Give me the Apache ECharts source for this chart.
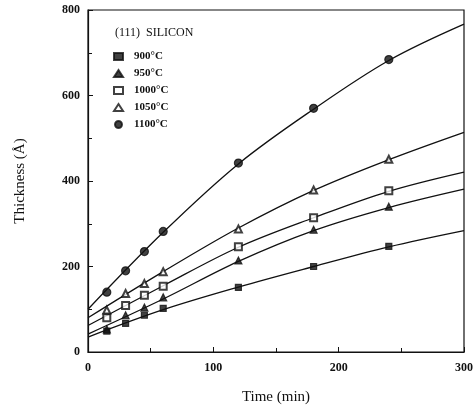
<!DOCTYPE html>
<html>
<head>
  <meta charset="UTF-8">
  <title>(111) Silicon oxide thickness</title>
  <style>
    *{ margin: 0; padding: 0; }
    body{ background: #fff; }
    #chart{ width: 476px; height: 410px; }
  </style>
</head>
<body>
<div id="chart"></div>
<script src="https://cdn.jsdelivr.net/npm/echarts@6/dist/echarts.min.js"></script>
<script>
  // measured times (min)
  var times = [15, 30, 45, 60, 120, 180, 240];
  // thickness (Å)
  var t900 = [49, 67, 86, 102, 151, 200, 247];
  var t950 = [53, 86, 104, 128, 214, 286, 340];
  var t1000 = [80, 109, 133, 154, 246, 314, 377];
  var t1050 = [98, 137, 160, 188, 288, 379, 451];
  var t1100 = [140, 190, 235, 282, 442, 570, 684];

  var curveTimes = [0, 60, 120, 180, 240, 300];
  var c900 = [35, 99, 152, 200, 246, 284];
  var c950 = [42, 124, 212, 284, 338, 381];
  var c1000 = [62, 155, 245, 314, 376, 421];
  var c1050 = [80, 188, 290, 378, 450, 514];
  var c1100 = [100, 280, 440, 568, 682, 767];

  var names = ['900°C', '950°C', '1000°C', '1050°C', '1100°C'];
  var symbols = ['rect', 'triangle', 'emptyRect', 'emptyTriangle', 'circle'];
  var sizes = [6, 7, 7, 7, 8];
  var points = [t900, t950, t1000, t1050, t1100];
  var curves = [c900, c950, c1000, c1050, c1100];

  var serif = '"Liberation Serif", "DejaVu Serif", serif';

  function zip(xs, ys) {
    return xs.map(function (x, i) { return [x, ys[i]]; });
  }

  var series = [];
  curves.forEach(function (c) {
    series.push({
      type: 'line',
      data: zip(curveTimes, c),
      smooth: 0.35,
      showSymbol: false,
      silent: true,
      lineStyle: { color: '#111', width: 1.3 }
    });
  });
  points.forEach(function (p, i) {
    series.push({
      name: names[i],
      type: 'scatter',
      data: zip(times, p),
      symbol: symbols[i],
      symbolSize: sizes[i],
      itemStyle: { color: '#111', borderColor: '#111', borderWidth: 1.2 },
      z: 5
    });
  });

  var chart = echarts.init(document.getElementById('chart'));
  chart.setOption({
    animation: false,
    title: {
      text: '(111)  SILICON',
      left: 110,
      top: 22,
      textStyle: { fontFamily: serif, fontSize: 12, fontWeight: 'normal', color: '#111' }
    },
    legend: {
      data: names,
      orient: 'vertical',
      left: 108,
      top: 46,
      itemWidth: 9,
      itemHeight: 7,
      itemGap: 6,
      textStyle: { fontFamily: serif, fontSize: 11, fontWeight: 'bold', color: '#111', padding: [0, 0, 0, 6] }
    },
    grid: {
      left: 88, right: 10, top: 10, bottom: 56,
      show: true, borderColor: '#111', borderWidth: 1.2
    },
    xAxis: {
      type: 'value',
      min: 0, max: 300, interval: 100,
      name: 'Time (min)',
      nameLocation: 'middle',
      nameGap: 38,
      nameTextStyle: { fontFamily: serif, fontSize: 15, color: '#111' },
      axisLine: { lineStyle: { color: '#111', width: 1.2 } },
      axisTick: { inside: true, length: 5, lineStyle: { color: '#111' } },
      minorTick: { show: true, splitNumber: 2, length: 4, lineStyle: { color: '#111' } },
      splitLine: { show: false },
      axisLabel: { fontFamily: serif, fontSize: 12, fontWeight: 'bold', color: '#111', margin: 10 }
    },
    yAxis: {
      type: 'value',
      min: 0, max: 800, interval: 200,
      name: 'Thickness (Å)',
      nameLocation: 'middle',
      nameGap: 60,
      nameRotate: 90,
      nameTextStyle: { fontFamily: serif, fontSize: 15, color: '#111' },
      axisLine: { show: true, lineStyle: { color: '#111', width: 1.2 } },
      axisTick: { show: true, inside: true, length: 5, lineStyle: { color: '#111' } },
      minorTick: { show: true, splitNumber: 2, length: 4, lineStyle: { color: '#111' } },
      splitLine: { show: false },
      axisLabel: { fontFamily: serif, fontSize: 12, fontWeight: 'bold', color: '#111', margin: 8 }
    },
    series: series
  });
</script>
</body>
</html>
